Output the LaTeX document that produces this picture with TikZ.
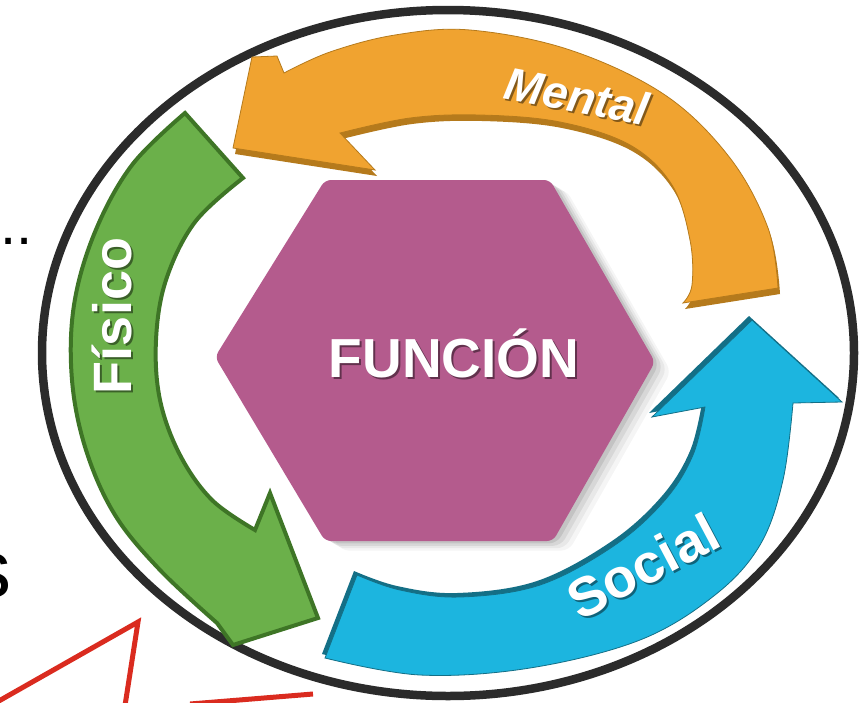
\documentclass[tikz,border=0pt]{standalone}
\usepackage{fontspec}
\setmainfont{Liberation Sans}
\definecolor{ringc}{HTML}{2B2B2B}
\definecolor{hexc}{HTML}{B45B8D}
\definecolor{orgc}{HTML}{F0A330}
\definecolor{orgd}{HTML}{B57A1C}
\definecolor{grnc}{HTML}{6BB04A}
\definecolor{grnd}{HTML}{3E7526}
\definecolor{cync}{HTML}{1CB5DF}
\definecolor{cynd}{HTML}{146F86}
\definecolor{redc}{HTML}{DA2B1F}
\def\hexpath{(325,180) -- (550,180) -- (655,362) -- (553,541) -- (325,541) -- (215,357) -- cycle}
\def\orgpath{(683,303) -- (778,288) -- plot[smooth,tension=0.6] coordinates {(778,288) (768,228) (730,158) (665,95) (570,50) (470,30) (395,35) (330,52) (284,73)} -- (277,56) -- (252,57) -- (233,148) -- (375,170) -- (340,133) -- plot[smooth,tension=0.6] coordinates {(340,133) (410,118) (480,115) (560,122) (630,145) (672,185) (690,240) (692,285) (683,303)} -- cycle}
\def\grnpath{(243,178) -- (185,113) -- plot[smooth,tension=0.6] coordinates {(185,113) (132,165) (95,232) (74,305) (72,380) (86,450) (115,515) (160,570) (217,623)} -- (233,645) -- (318,618) -- (270,493) -- (255,530) -- plot[smooth,tension=0.6] coordinates {(255,530) (212,500) (180,455) (160,400) (156,340) (166,280) (195,222) (243,178)} -- cycle}
\def\cynpath{(357,575) -- (325,658) -- plot[smooth,tension=0.6] coordinates {(325,658) (420,675) (530,668) (640,640) (715,595) (760,545) (783,480) (793,403)} -- (842,402) -- (752,320) -- (652,417) -- (705,407) -- plot[smooth,tension=0.6] coordinates {(705,407) (693,455) (665,500) (615,545) (540,585) (460,597) (400,590) (357,575)} -- cycle}
\begin{document}
\begin{tikzpicture}[x=1pt,y=-1pt,
  lbl/.style={text=white, inner sep=0, anchor=base},
  lblsh/.style={text=black, opacity=0.45, inner sep=0, anchor=base},
  redline/.style={draw=redc, line width=5pt, line join=miter},
  sidetxt/.style={text=black, inner sep=0, anchor=base west}]
\useasboundingbox (0,0) rectangle (859,702);
% outer ring
\draw[line width=8.5pt, draw=ringc, fill=white] (448,353) ellipse [x radius=406, y radius=343];
% hexagon with soft shadow
\foreach \s/\o in {16/0.04,12/0.05,8/0.07,4/0.09}
  \fill[black, opacity=\o, shift={(\s,0.6*\s)}, rounded corners=8pt] \hexpath;
\fill[hexc, rounded corners=6pt] \hexpath;
% green arrow (Fisico)
\path[fill=grnc, draw=grnd, line width=4pt, line join=miter] \grnpath;
% orange arrow (Mental)
\fill[orgd, shift={(2,6)}] \orgpath;
\path[fill=orgc, draw=orgd, line width=0.8pt] \orgpath;
% cyan arrow (Social)
\fill[cynd, shift={(-3,-4)}] \cynpath;
\path[fill=cync, draw=cynd, line width=0.8pt] \cynpath;
% labels (with soft shadow)
\node[lblsh, rotate=90, font=\bfseries\fontsize{54}{60}\selectfont] (fisicosh) at (133,318) {Físico};
\node[lbl, rotate=90, font=\bfseries\fontsize{54}{60}\selectfont] (fisico) at (131,316) {Físico};
\node[lblsh, rotate=-11, font=\bfseries\itshape\fontsize{46}{50}\selectfont] (mentalsh) at (576,114) {Mental};
\node[lbl, rotate=-11, font=\bfseries\itshape\fontsize{46}{50}\selectfont] (mental) at (574,112) {Mental};
\node[lblsh, rotate=28, font=\bfseries\fontsize{55}{60}\selectfont] (socialsh) at (654,585) {Social};
\node[lbl, rotate=28, font=\bfseries\fontsize{55}{60}\selectfont] (social) at (652,583) {Social};
\node[lblsh, font=\bfseries\fontsize{55}{60}\selectfont] (funcsh) at (456,379) {FUNCIÓN};
\node[lbl, font=\bfseries\fontsize{55}{60}\selectfont] (func) at (454,377) {FUNCIÓN};
% side texts
\node[sidetxt, font=\fontsize{58}{60}\selectfont] (dots) at (0,244) {..};
\node[sidetxt, font=\fontsize{82}{90}\selectfont] (sletter) at (-30,597) {s};
% red callout lines
\coordinate (rA) at (-10,706);
\coordinate (rB) at (138,622);
\coordinate (rC) at (124,712);
\coordinate (rD) at (190,704);
\coordinate (rE) at (313,694);
\draw[redline] (rA) -- (rB) -- (rC);
\draw[redline] (rD) -- (rE);
\end{tikzpicture}
\end{document}
